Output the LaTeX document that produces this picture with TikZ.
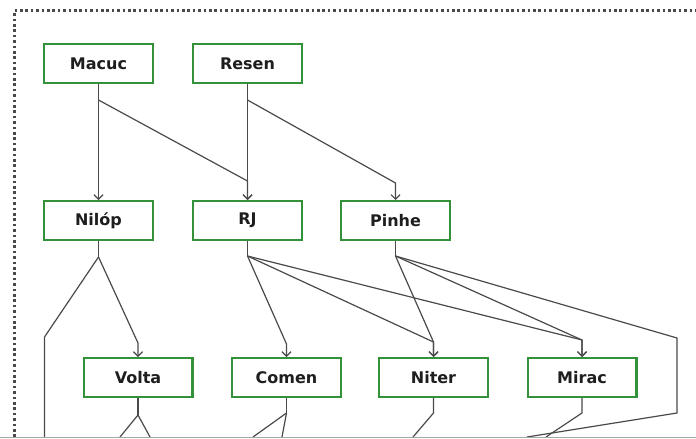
\documentclass[tikz,border=0pt]{standalone}
\usepackage{fontspec}
\newfontfamily\boxfont{DejaVu Sans}
\usetikzlibrary{arrows.meta,calc}
\definecolor{boxgreen}{HTML}{33913A}
\definecolor{wire}{HTML}{4A4A4A}
\definecolor{frameink}{HTML}{4A4A4A}
\definecolor{labelink}{HTML}{1E1E1E}
\tikzset{
  stagebox/.style={draw=boxgreen, line width=2.3pt, fill=white,
    minimum width=108.7pt, minimum height=38.7pt, inner sep=0pt,
    text=labelink, font=\boxfont\bfseries\fontsize{16}{16}\selectfont},
  wireline/.style={draw=wire, line width=1.2pt, line join=miter},
  wirearrow/.style={wireline, -{Straight Barb[length=4.5pt,width=9pt,line width=1.2pt]}},
}
\begin{document}
\begin{tikzpicture}[x=1pt,y=-1pt]
\useasboundingbox (0,0) rectangle (696,439);
\fill[white] (0,0) rectangle (696,439);

% dotted frame
\draw[frameink, line width=2.6pt, dash pattern=on 2.6pt off 2.8pt]
  (14.5,437) -- (14.5,10.5) -- (696,10.5);

\begin{scope}
\clip (0,0) rectangle (696,437);

% free ends of the connectors leaving the frame at the bottom
\coordinate (nilopout) at (44.5,437);
\coordinate (voltaoutl) at (120,437);
\coordinate (voltaoutr) at (150,437);
\coordinate (comenoutl) at (253,437);
\coordinate (comenoutr) at (282,437);
\coordinate (niterout) at (413,437);
\coordinate (miracout) at (546,437);
\coordinate (pinheout) at (527,437);

% boxes
\node[stagebox] (macuc) at (98.5,63.5) {Macuc};
\node[stagebox] (resen) at (247.5,63.5) {Resen};
\node[stagebox] (nilop) at (98.5,220.5) {Nilóp};
\node[stagebox] (rj)    at (247.5,220.5) {RJ};
\node[stagebox] (pinhe) at (395.5,220.5) {Pinhe};
\node[stagebox] (volta) at (138,377.5) {Volta};
\node[stagebox] (comen) at (286.5,377.5) {Comen};
\node[stagebox] (niter) at (433.5,377.5) {Niter};
\node[stagebox] (mirac) at (582,377.5) {Mirac};

% Macuc
\draw[wireline] (macuc.south) -- ($(macuc.south)+(0,16)$) coordinate (mj);
\draw[wirearrow] (mj) -- (nilop.north);
\draw[wirearrow] (mj) -- ($(rj.north)+(0,-19)$) -- (rj.north);

% Resen
\draw[wireline] (resen.south) -- ($(resen.south)+(0,16)$) coordinate (rsj);
\draw[wirearrow] (rsj) -- (rj.north);
\draw[wirearrow] (rsj) -- ($(pinhe.north)+(0,-17)$) -- (pinhe.north);

% Nilóp
\draw[wireline] (nilop.south) -- ($(nilop.south)+(0,16)$) coordinate (nj);
\draw[wirearrow] (nj) -- ($(volta.north)+(0,-14)$) -- (volta.north);
\draw[wireline] (nj) -- (44.5,337) -- (nilopout);

% RJ
\draw[wireline] (rj.south) -- ($(rj.south)+(0,15)$) coordinate (rjj);
\draw[wirearrow] (rjj) -- ($(comen.north)+(0,-13)$) -- (comen.north);
\draw[wirearrow] (rjj) -- ($(niter.north)+(0,-15)$) -- (niter.north);
\draw[wirearrow] (rjj) -- ($(mirac.north)+(0,-17)$) -- (mirac.north);

% Pinhe
\draw[wireline] (pinhe.south) -- ($(pinhe.south)+(0,15)$) coordinate (pj);
\draw[wirearrow] (pj) -- ($(niter.north)+(0,-15)$) -- (niter.north);
\draw[wirearrow] (pj) -- ($(mirac.north)+(0,-17)$) -- (mirac.north);
\draw[wireline] (pj) -- (677,338) -- (677,413) -- (pinheout);

% lower row
\draw[wireline] (volta.south) -- ($(volta.south)+(0,17)$) coordinate (vj);
\draw[wireline] (vj) -- (voltaoutl);
\draw[wireline] (vj) -- (voltaoutr);
\draw[wireline] (comen.south) -- ($(comen.south)+(0,15)$) coordinate (cj);
\draw[wireline] (cj) -- (comenoutl);
\draw[wireline] (cj) -- (comenoutr);
\draw[wireline] (niter.south) -- ($(niter.south)+(0,15)$) -- (niterout);
\draw[wireline] (mirac.south) -- ($(mirac.south)+(0,15)$) -- (miracout);
\end{scope}

% lower edge
\draw[gray!70, line width=1pt] (0,437.5) -- (696,437.5);
\end{tikzpicture}
\end{document}
